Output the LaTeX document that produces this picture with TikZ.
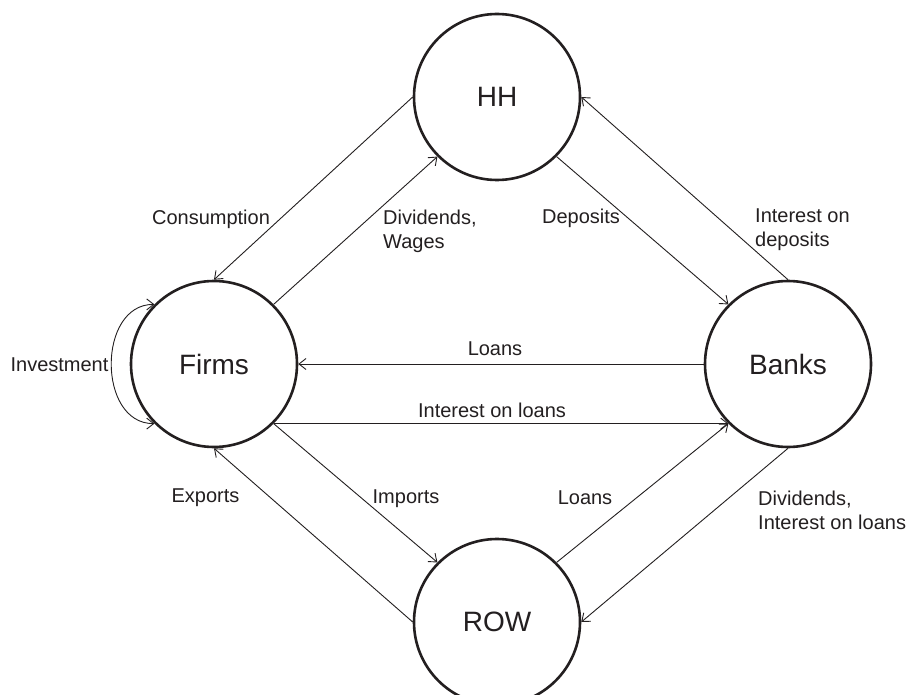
\documentclass[tikz,border=0pt]{standalone}
\usepackage{fontspec}
\setmainfont{Liberation Sans}
\usetikzlibrary{arrows.meta}
\definecolor{ink}{RGB}{35,31,32}
\begin{document}
\begin{tikzpicture}[x=1pt,y=-1pt,
  sector/.style={circle,draw=ink,line width=2.6pt,minimum size=166pt,inner sep=0pt,
                 font=\fontsize{28}{32}\selectfont,text=ink},
  flow/.style={draw=ink,line width=0.9pt,-{Straight Barb[length=7pt,width=11pt,line width=0.9pt]}},
  flowboth/.style={draw=ink,line width=0.9pt,{Straight Barb[length=7pt,width=11pt,line width=0.9pt]}-{Straight Barb[length=7pt,width=11pt,line width=0.9pt]}},
  lbl/.style={inner sep=0pt,font=\fontsize{20}{24}\selectfont,text=ink},
  mlbl/.style={inner sep=0pt,font=\fontsize{20}{24}\selectfont,text=ink,align=left,anchor=north west}]
\useasboundingbox (0,0) rectangle (910,695);
\clip (0,0) rectangle (910,695);
\fill[white] (0,0) rectangle (910,695);

\node[sector] (HH)    at (497,97)  {HH};
\node[sector] (Firms) at (214,364) {Firms};
\node[sector] (Banks) at (788,364) {Banks};
\node[sector] (ROW)   at (497,622) {ROW};

% HH - Firms
\draw[flow] (HH.180) -- (Firms.90);
\draw[flow] (Firms.45) -- (HH.225);
% HH - Banks
\draw[flow] (HH.-45) -- (Banks.135);
\draw[flow] (Banks.90) -- (HH.0);
% Firms - Banks
\draw[flow] (Banks.180) -- (Firms.0);
\draw[flow] (Firms.-45) -- (Banks.-135);
% Firms - ROW
\draw[flow] (Firms.-45) -- (ROW.135);
\draw[flow] (ROW.180) -- (Firms.-90);
% ROW - Banks
\draw[flow] (ROW.45) -- (Banks.-135);
\draw[flow] (Banks.-90) -- (ROW.0);
% Investment loop
\draw[flowboth] (Firms.135) to[out=180,in=180,looseness=1.23] (Firms.-135);

% labels
\node[lbl,anchor=base] (lcons) at (211,225) {Consumption};
\node[mlbl] (ldivw) at (383,210) {Dividends,\\Wages};
\node[lbl,anchor=base] (ldep) at (581,223) {Deposits};
\node[mlbl] (lintdep) at (755,209) {Interest on\\deposits};
\node[lbl,anchor=base] (lloans) at (495,355) {Loans};
\node[lbl,anchor=base] (lintl) at (492,417) {Interest on loans};
\node[lbl,anchor=base] (linv) at (59.5,371) {Investment};
\node[lbl,anchor=base] (lexp) at (205.5,502) {Exports};
\node[lbl,anchor=base] (limp) at (406,503) {Imports};
\node[lbl,anchor=base] (lloans2) at (585,504) {Loans};
\node[mlbl] (ldivil) at (758,491) {Dividends,\\Interest on loans};
\end{tikzpicture}
\end{document}
